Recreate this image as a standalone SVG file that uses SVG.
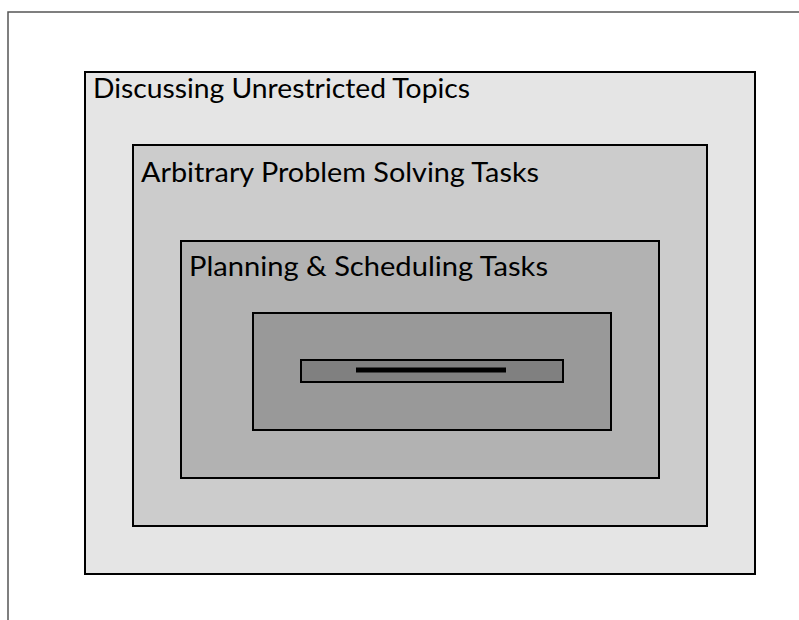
<svg xmlns="http://www.w3.org/2000/svg" width="799" height="620" viewBox="0 0 799 620">
<style>
.box{stroke:#000;stroke-width:2}
.lbl{font-family:Lato,"Open Sans","Noto Sans",sans-serif;font-size:26px;fill:#000}
</style>
<rect width="799" height="620" fill="#fff"/>
<path d="M8 620 V12 H799" fill="none" stroke="#555" stroke-width="1.5"/>
<g id="unrestricted">
<rect class="box" x="85" y="72" width="670" height="502" fill="#e5e5e5"/>
<text class="lbl" x="93" y="98" textLength="377" lengthAdjust="spacingAndGlyphs">Discussing Unrestricted Topics</text>
</g>
<g id="problem-solving">
<rect class="box" x="133" y="145" width="574" height="381" fill="#cccccc"/>
<text class="lbl" x="141" y="182" textLength="398" lengthAdjust="spacingAndGlyphs">Arbitrary Problem Solving Tasks</text>
</g>
<g id="planning">
<rect class="box" x="181" y="241" width="478" height="237" fill="#b2b2b2"/>
<text class="lbl" x="189" y="276" textLength="359" lengthAdjust="spacingAndGlyphs">Planning &amp; Scheduling Tasks</text>
</g>
<g id="level4">
<rect class="box" x="253" y="313" width="358" height="117" fill="#999999"/>
</g>
<g id="level5">
<rect class="box" x="301" y="360" width="262" height="22" fill="#808080"/>
<line x1="356" y1="370" x2="506" y2="370" stroke="#000" stroke-width="5"/>
</g>
<g id="connectors"/>
</svg>
